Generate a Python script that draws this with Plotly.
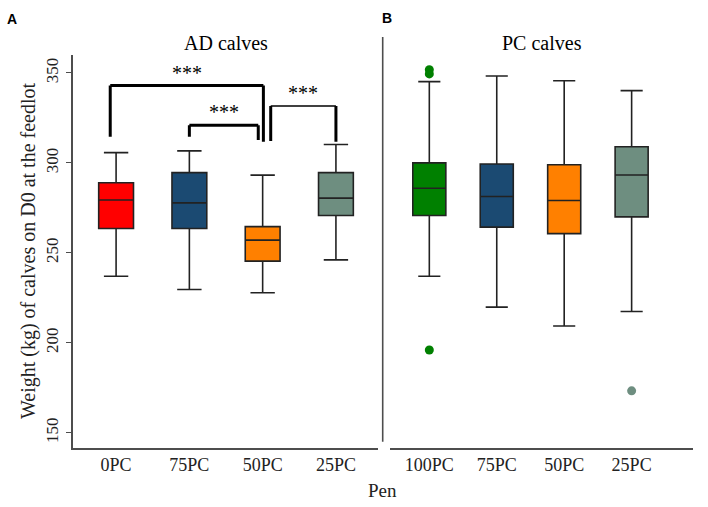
import plotly.graph_objects as go

# ---------------- data ----------------
ad_pens = ["0PC", "75PC", "50PC", "25PC"]
ad_colors = ["#FF0000", "#1B4A72", "#FF8000", "#6E8E80"]
ad_lower = [237.0, 229.6, 227.8, 246.1]
ad_q1 = [263.5, 263.5, 245.4, 270.8]
ad_median = [279.4, 277.8, 257.1, 280.4]
ad_q3 = [289.0, 294.6, 264.6, 294.6]
ad_upper = [305.7, 306.7, 293.2, 310.2]

pc_pens = ["100PC", "75PC", "50PC", "25PC"]
pc_colors = ["#008000", "#1B4A72", "#FF8000", "#6E8E80"]
pc_lower = [237.0, 219.8, 209.3, 217.4]
pc_q1 = [270.8, 264.3, 260.7, 270.0]
pc_median = [285.9, 281.3, 279.1, 293.3]
pc_q3 = [300.0, 299.4, 299.0, 309.0]
pc_upper = [345.2, 348.3, 345.7, 340.2]

pc_outlier_pen = ["100PC", "100PC", "100PC", "25PC"]
pc_outlier_val = [349.5, 351.8, 196.0, 173.3]
pc_outlier_color = ["#008000", "#008000", "#008000", "#6E8E80"]

y_ticks = [150, 200, 250, 300, 350]

# significance brackets (AD panel): from pen index, to pen index, bar height, leg ends
sig_from = [0, 1, 2]
sig_to = [2, 2, 3]
sig_top = [343.0, 321.0, 331.7]
sig_left_end = [314.6, 314.6, 312.2]
sig_right_end = [311.8, 312.7, 311.8]
sig_label = ["***", "***", "***"]

# ---------------- styling ----------------
W, H = 708, 507
SERIF = "Liberation Serif, Times New Roman, serif"
AXC = "#4d4d4d"
BOXLINE = "#222222"

def px(x):
    return x / W

def py(y):
    return 1 - y / H

fig = go.Figure()

for i, p in enumerate(ad_pens):
    fig.add_trace(go.Box(
        x=[p], q1=[ad_q1[i]], median=[ad_median[i]], q3=[ad_q3[i]],
        lowerfence=[ad_lower[i]], upperfence=[ad_upper[i]],
        fillcolor=ad_colors[i], line=dict(color=BOXLINE, width=1.6),
        width=0.475, whiskerwidth=0.7, boxpoints=False,
        xaxis="x", yaxis="y", showlegend=False, hoverinfo="skip"))

for i, p in enumerate(pc_pens):
    fig.add_trace(go.Box(
        x=[p], q1=[pc_q1[i]], median=[pc_median[i]], q3=[pc_q3[i]],
        lowerfence=[pc_lower[i]], upperfence=[pc_upper[i]],
        fillcolor=pc_colors[i], line=dict(color=BOXLINE, width=1.6),
        width=0.49, whiskerwidth=0.67, boxpoints=False,
        xaxis="x2", yaxis="y2", showlegend=False, hoverinfo="skip"))

fig.add_trace(go.Scatter(
    x=pc_outlier_pen, y=pc_outlier_val, mode="markers",
    marker=dict(color=pc_outlier_color, size=9, line=dict(width=0)),
    xaxis="x2", yaxis="y2", showlegend=False, hoverinfo="skip"))

# brackets
leg_dx = [(-0.08, 0.01), (0.0, -0.06), (0.11, 0.0)]
bar_w = [3, 3, 1.5]
shapes = []
annotations = []
for k in range(len(sig_from)):
    xl = sig_from[k] + leg_dx[k][0]
    xr = sig_to[k] + leg_dx[k][1]
    top = sig_top[k]
    shapes.append(dict(type="line", xref="x", yref="y", x0=xl, x1=xr, y0=top, y1=top,
                       line=dict(color="black", width=bar_w[k])))
    shapes.append(dict(type="line", xref="x", yref="y", x0=xl, x1=xl, y0=top, y1=sig_left_end[k],
                       line=dict(color="black", width=3)))
    shapes.append(dict(type="line", xref="x", yref="y", x0=xr, x1=xr, y0=top, y1=sig_right_end[k],
                       line=dict(color="black", width=3)))
    annotations.append(dict(x=(xl + xr) / 2, y=top, xref="x", yref="y", text=sig_label[k],
                            showarrow=False, yanchor="middle", yshift=13,
                            font=dict(family=SERIF, size=20, color="black")))

# panel B left line
shapes.append(dict(type="line", xref="paper", yref="paper",
                   x0=px(382.7), x1=px(382.7), y0=py(37), y1=py(441.7),
                   line=dict(color=AXC, width=1.6)))

# titles / labels
annotations += [
    dict(x=px(225.7), y=py(43), xref="paper", yref="paper", text="AD calves", showarrow=False,
         xanchor="center", yanchor="middle", font=dict(family=SERIF, size=20, color="black")),
    dict(x=px(541.7), y=py(43), xref="paper", yref="paper", text="PC calves", showarrow=False,
         xanchor="center", yanchor="middle", font=dict(family=SERIF, size=20, color="black")),
    dict(x=px(12), y=py(19), xref="paper", yref="paper", text="<b>A</b>", showarrow=False,
         xanchor="center", yanchor="middle", font=dict(family="Liberation Sans, Arial", size=14, color="black")),
    dict(x=px(387), y=py(18), xref="paper", yref="paper", text="<b>B</b>", showarrow=False,
         xanchor="center", yanchor="middle", font=dict(family="Liberation Sans, Arial", size=14, color="black")),
    dict(x=px(382), y=py(490), xref="paper", yref="paper", text="Pen", showarrow=False,
         xanchor="center", yanchor="middle", font=dict(family=SERIF, size=19, color="#222")),
    dict(x=px(28), y=py(251), xref="paper", yref="paper", text="Weight (kg) of calves on D0 at the feedlot",
         showarrow=False, textangle=-90, xanchor="center", yanchor="middle",
         font=dict(family=SERIF, size=20, color="#222")),
]

y_range = [141.67, 360.0]
ydom = [py(447.7), py(55)]

fig.update_layout(
    width=W, height=H,
    margin=dict(l=0, r=0, t=0, b=0),
    paper_bgcolor="white", plot_bgcolor="white",
    boxmode="overlay",
    shapes=shapes, annotations=annotations,
    xaxis=dict(domain=[px(73.3), px(377.7)], type="category", categoryorder="array",
               categoryarray=ad_pens, range=[-0.584, 3.57], showline=True, linecolor=AXC,
               linewidth=1.6, showgrid=False, zeroline=False, ticks="", anchor="y",
               tickfont=dict(family=SERIF, size=18, color="#222")),
    yaxis=dict(domain=ydom, range=y_range, showline=True, linecolor=AXC, linewidth=1.6,
               showgrid=False, zeroline=False, ticks="outside", ticklen=6, tickwidth=1.2,
               tickcolor=AXC, tickvals=y_ticks, tickangle=-90, anchor="x",
               ticklabelstandoff=1,
               tickfont=dict(family=SERIF, size=17, color="#222")),
    xaxis2=dict(domain=[px(390), px(693)], type="category", categoryorder="array",
                categoryarray=pc_pens, range=[-0.583, 3.91], showline=True, linecolor=AXC,
                linewidth=1.6, showgrid=False, zeroline=False, ticks="", anchor="y2",
                tickfont=dict(family=SERIF, size=18, color="#222")),
    yaxis2=dict(domain=ydom, range=y_range, showline=False, showgrid=False, zeroline=False,
                showticklabels=False, ticks="", anchor="x2"),
)

fig.write_html("out.html", config={"displayModeBar": False},
               post_script="document.body.style.margin='0';document.body.style.padding='0';")
